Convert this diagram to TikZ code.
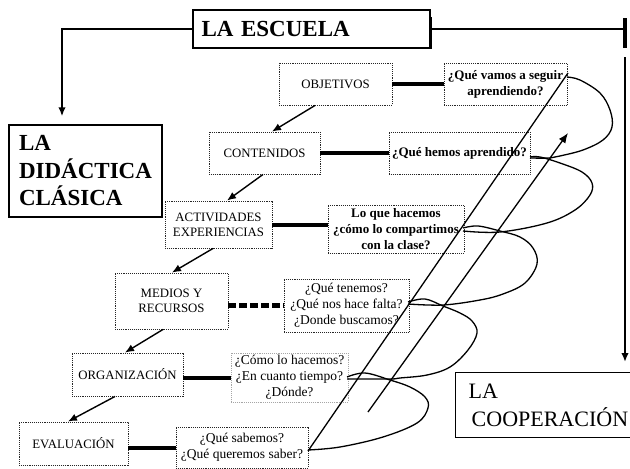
\documentclass[tikz,border=0pt]{standalone}
\usepackage{fontspec}
\setmainfont{Liberation Serif}
\usetikzlibrary{arrows.meta,calc}
\tikzset{
  lbl/.style={draw=black!85, densely dotted, line width=0.9pt, inner sep=0pt, align=center,
    font=\fontsize{12.8}{15}\selectfont},
  qb/.style={draw=black!85, densely dotted, line width=0.9pt, inner sep=0pt, align=center,
    font=\bfseries\fontsize{13}{16}\selectfont},
  qr/.style={draw=black!85, densely dotted, line width=0.9pt, inner sep=0pt, align=center,
    font=\fontsize{13.5}{16}\selectfont},
  qlight/.style={qr, draw=black!35},
  bigbox/.style={draw, line width=1.4pt, inner sep=0pt},
  arr/.style={-{Latex[length=9pt,width=7.5pt]}, line width=1.4pt},
  tlink/.style={line width=4pt},
  dlink/.style={line width=4.5pt, dash pattern=on 8pt off 3pt},
  spiral/.style={line width=1.3pt},
}
\begin{document}
\begin{tikzpicture}[x=1pt,y=-1pt]
\useasboundingbox (0,0) rectangle (630,469);

% title and side boxes
\node[bigbox, line width=1.2pt, minimum width=237pt, minimum height=38pt, text width=220pt, align=left,
  font=\bfseries\fontsize{23}{26}\selectfont] (esc) at (311.5,29) {LA ESCUELA};
\draw[line width=2.6pt] ($(esc.north east)+(0,8)$) -- (esc.south east);

\node[bigbox, minimum width=153pt, minimum height=92pt, align=left,
  font=\bfseries\fontsize{23}{27.5}\selectfont] (did) at (85.5,171) {LA\\DIDÁCTICA\\CLÁSICA};

\node[bigbox, anchor=north west, minimum width=190pt, minimum height=65pt, text width=164pt, align=left,
  font=\fontsize{22}{28}\selectfont] (coop) at (455,372) {LA\\\hspace*{3pt}COOPERACIÓN};

% left and right connectors from LA ESCUELA
\draw[arr, line width=2pt] (esc.west) -| ($(did.north)+(-23.5,-8)$);
\coordinate (rc) at (625,29);
\coordinate (rtop) at (625,57);
\coordinate (rbot) at (625,362);
\draw[line width=2.6pt] (esc.east) -- (rc);
\draw[line width=3.5pt] ($(rc)+(0,-11)$) -- ($(rc)+(0,19)$);
\draw[arr, line width=2pt] (rtop) -- (rbot);

% left column
\node[lbl, minimum width=113pt, minimum height=42pt] (obj) at (335.5,84) {OBJETIVOS};
\node[lbl, minimum width=111pt, minimum height=42pt] (con) at (264.5,153) {CONTENIDOS};
\node[lbl, minimum width=107pt, minimum height=47pt] (act) at (218.5,224.5) {ACTIVIDADES\\EXPERIENCIAS};
\node[lbl, minimum width=113pt, minimum height=56pt] (med) at (171.5,301) {MEDIOS Y\\RECURSOS};
\node[lbl, minimum width=111pt, minimum height=43pt] (org) at (127.5,374.5) {ORGANIZACIÓN};
\node[lbl, minimum width=109pt, minimum height=43pt] (eva) at (73.5,443.5) {EVALUACIÓN};

% question boxes
\node[qb, minimum width=123pt, minimum height=42pt] (q1) at (505.5,84) {¿Qué vamos a seguir\\aprendiendo?};
\node[qb, minimum width=141pt, minimum height=42pt] (q2) at (459.5,153) {¿Qué hemos aprendido?};
\node[qb, minimum width=136pt, minimum height=48pt] (q3) at (396,229) {Lo que hacemos\\¿cómo lo compartimos\\con la clase?};
\node[qr, minimum width=125pt, minimum height=53pt] (q4) at (346.5,305.5) {¿Qué tenemos?\\¿Qué nos hace falta?\\¿Donde buscamos?};
\node[qlight, minimum width=117pt, minimum height=49pt] (q5) at (289.5,377.5) {¿Cómo lo hacemos?\\¿En cuanto tiempo?\\¿Dónde?};
\node[qr, minimum width=132pt, minimum height=41pt] (q6) at (242,447.5) {¿Qué sabemos?\\¿Qué queremos saber?};

% arrows down the column
\draw[arr] ($(obj.south)+(-20.5,0)$) -- ($(con.north)+(7.5,0)$);
\draw[arr] ($(con.south)+(-1.5,0)$) -- ($(act.north)+(8.5,0)$);
\draw[arr] ($(act.south)+(-5.5,0)$) -- ($(med.north)+(0.5,0)$);
\draw[arr] ($(med.south)+(-8.5,0)$) -- ($(org.north)+(-2.5,0)$);
\draw[arr] ($(org.south)+(-12.5,0)$) -- ($(eva.north)+(-5.5,0)$);

% thick links
\draw[tlink] (obj.east) -- (obj.east -| q1.west);
\draw[tlink] (con.east) -- (con.east -| q2.west);
\draw[tlink] (act.east) -- (act.east -| q3.west);
\draw[dlink] (med.east |- q4.west) -- (q4.west);
\draw[tlink] (org.east |- q5.west) -- (q5.west);
\draw[tlink] (eva.east |- q6.west) -- (q6.west);

% spiral
\draw[spiral] (308,451) -- (568,73);
\draw[spiral, -{Latex[length=10pt,width=8pt]}] (368,412) -- (568,133);
\draw[spiral] plot[smooth, tension=0.6] coordinates {(308,450) (340,447) (383,437) (417,423) (428,408) (425,397) (410,387) (390,380) (365,373) (347,377)};
\draw[spiral] plot[smooth, tension=0.6] coordinates {(347,379) (390,379) (400,378) (427,375) (450,367) (468,350) (477,333) (472,321) (460,313) (443,306) (425,299) (408,302)};
\draw[spiral] plot[smooth, tension=0.6] coordinates {(408,304) (443,305) (480,300) (503,294) (525,283) (537,264) (533,248) (520,237) (500,231) (478,226) (463,228)};
\draw[spiral] plot[smooth, tension=0.6] coordinates {(463,231) (500,232) (547,223) (575,210) (590,195) (592,183) (582,172) (560,163) (540,157) (530,157)};
\draw[spiral] plot[smooth, tension=0.6] coordinates {(530,158) (550,158) (560,156) (583,150) (603,140) (612,127) (610,110) (600,93) (580,80) (567,77)};
\end{tikzpicture}
\end{document}
